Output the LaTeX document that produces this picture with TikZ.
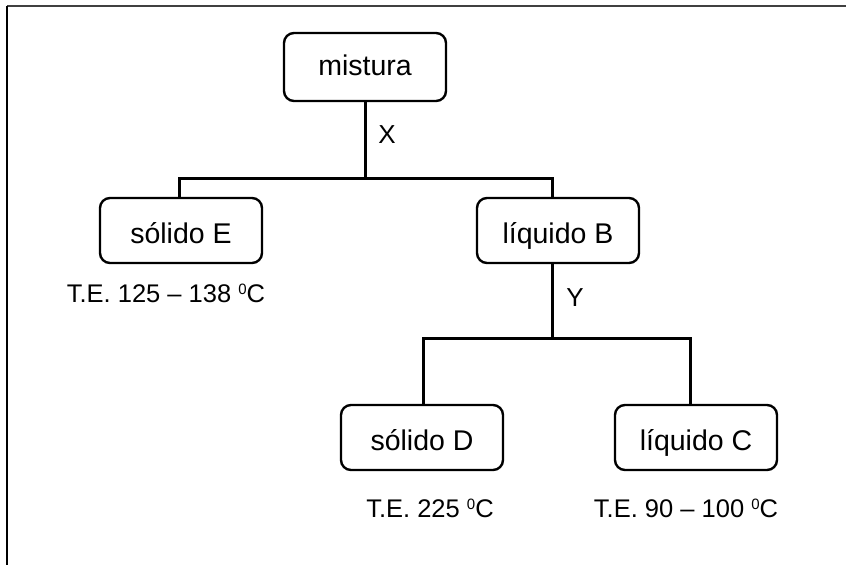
\documentclass[tikz,border=0pt]{standalone}
\usepackage{fontspec}
\setmainfont{Liberation Sans}
\newcommand{\degz}{\raisebox{8pt}{\fontsize{15}{15}\selectfont 0}}
\begin{document}
\begin{tikzpicture}[x=1pt,y=-1pt,
  box/.style={draw, line width=2.4pt, rounded corners=10pt, minimum width=162pt, minimum height=65pt,
    inner sep=0pt, text height=25pt, text depth=0pt, font=\fontsize{28.5}{30}\selectfont},
  conn/.style={line width=3pt},
  temp/.style={anchor=base, inner sep=0pt, font=\fontsize{25.5}{28}\selectfont},
  lbl/.style={inner sep=0pt, font=\fontsize{26}{28}\selectfont}]
\useasboundingbox (0,0) rectangle (846,565);
\draw[line width=1.8pt, color=black!75] (7,6) -- (846,6);
\draw[line width=1.8pt] (7,6) -- (7,565);

\node[box, minimum height=68pt, text height=16pt] (m) at (365,67) {mistura};
\node[box] (E) at (181,230.5) {sólido E};
\node[box] (B) at (558,230.5) {líquido B};
\node[box] (D) at (422,437.5) {sólido D};
\node[box] (C) at (696,437.5) {líquido C};

\coordinate (j1) at (365,178);
\coordinate (j2) at (552,338);
\draw[conn] (m.south) -- (j1);
\draw[conn] ([xshift=-2pt]E.north) |- (j1) -| ([xshift=-6pt]B.north);
\draw[conn] ([xshift=-6pt]B.south) -- (j2);
\draw[conn] ([xshift=1pt]D.north) |- (j2) -| ([xshift=-6pt]C.north);

\node[lbl] (X) at (387,135) {X};
\node[lbl] (Y) at (575,298) {Y};

\node[temp] (tE) at (166,302) {T.E. 125 – 138 \degz C};
\node[temp] (tD) at (430,517) {T.E. 225 \degz C};
\node[temp] (tC) at (686,517) {T.E. 90 – 100 \degz C};
\end{tikzpicture}
\end{document}
